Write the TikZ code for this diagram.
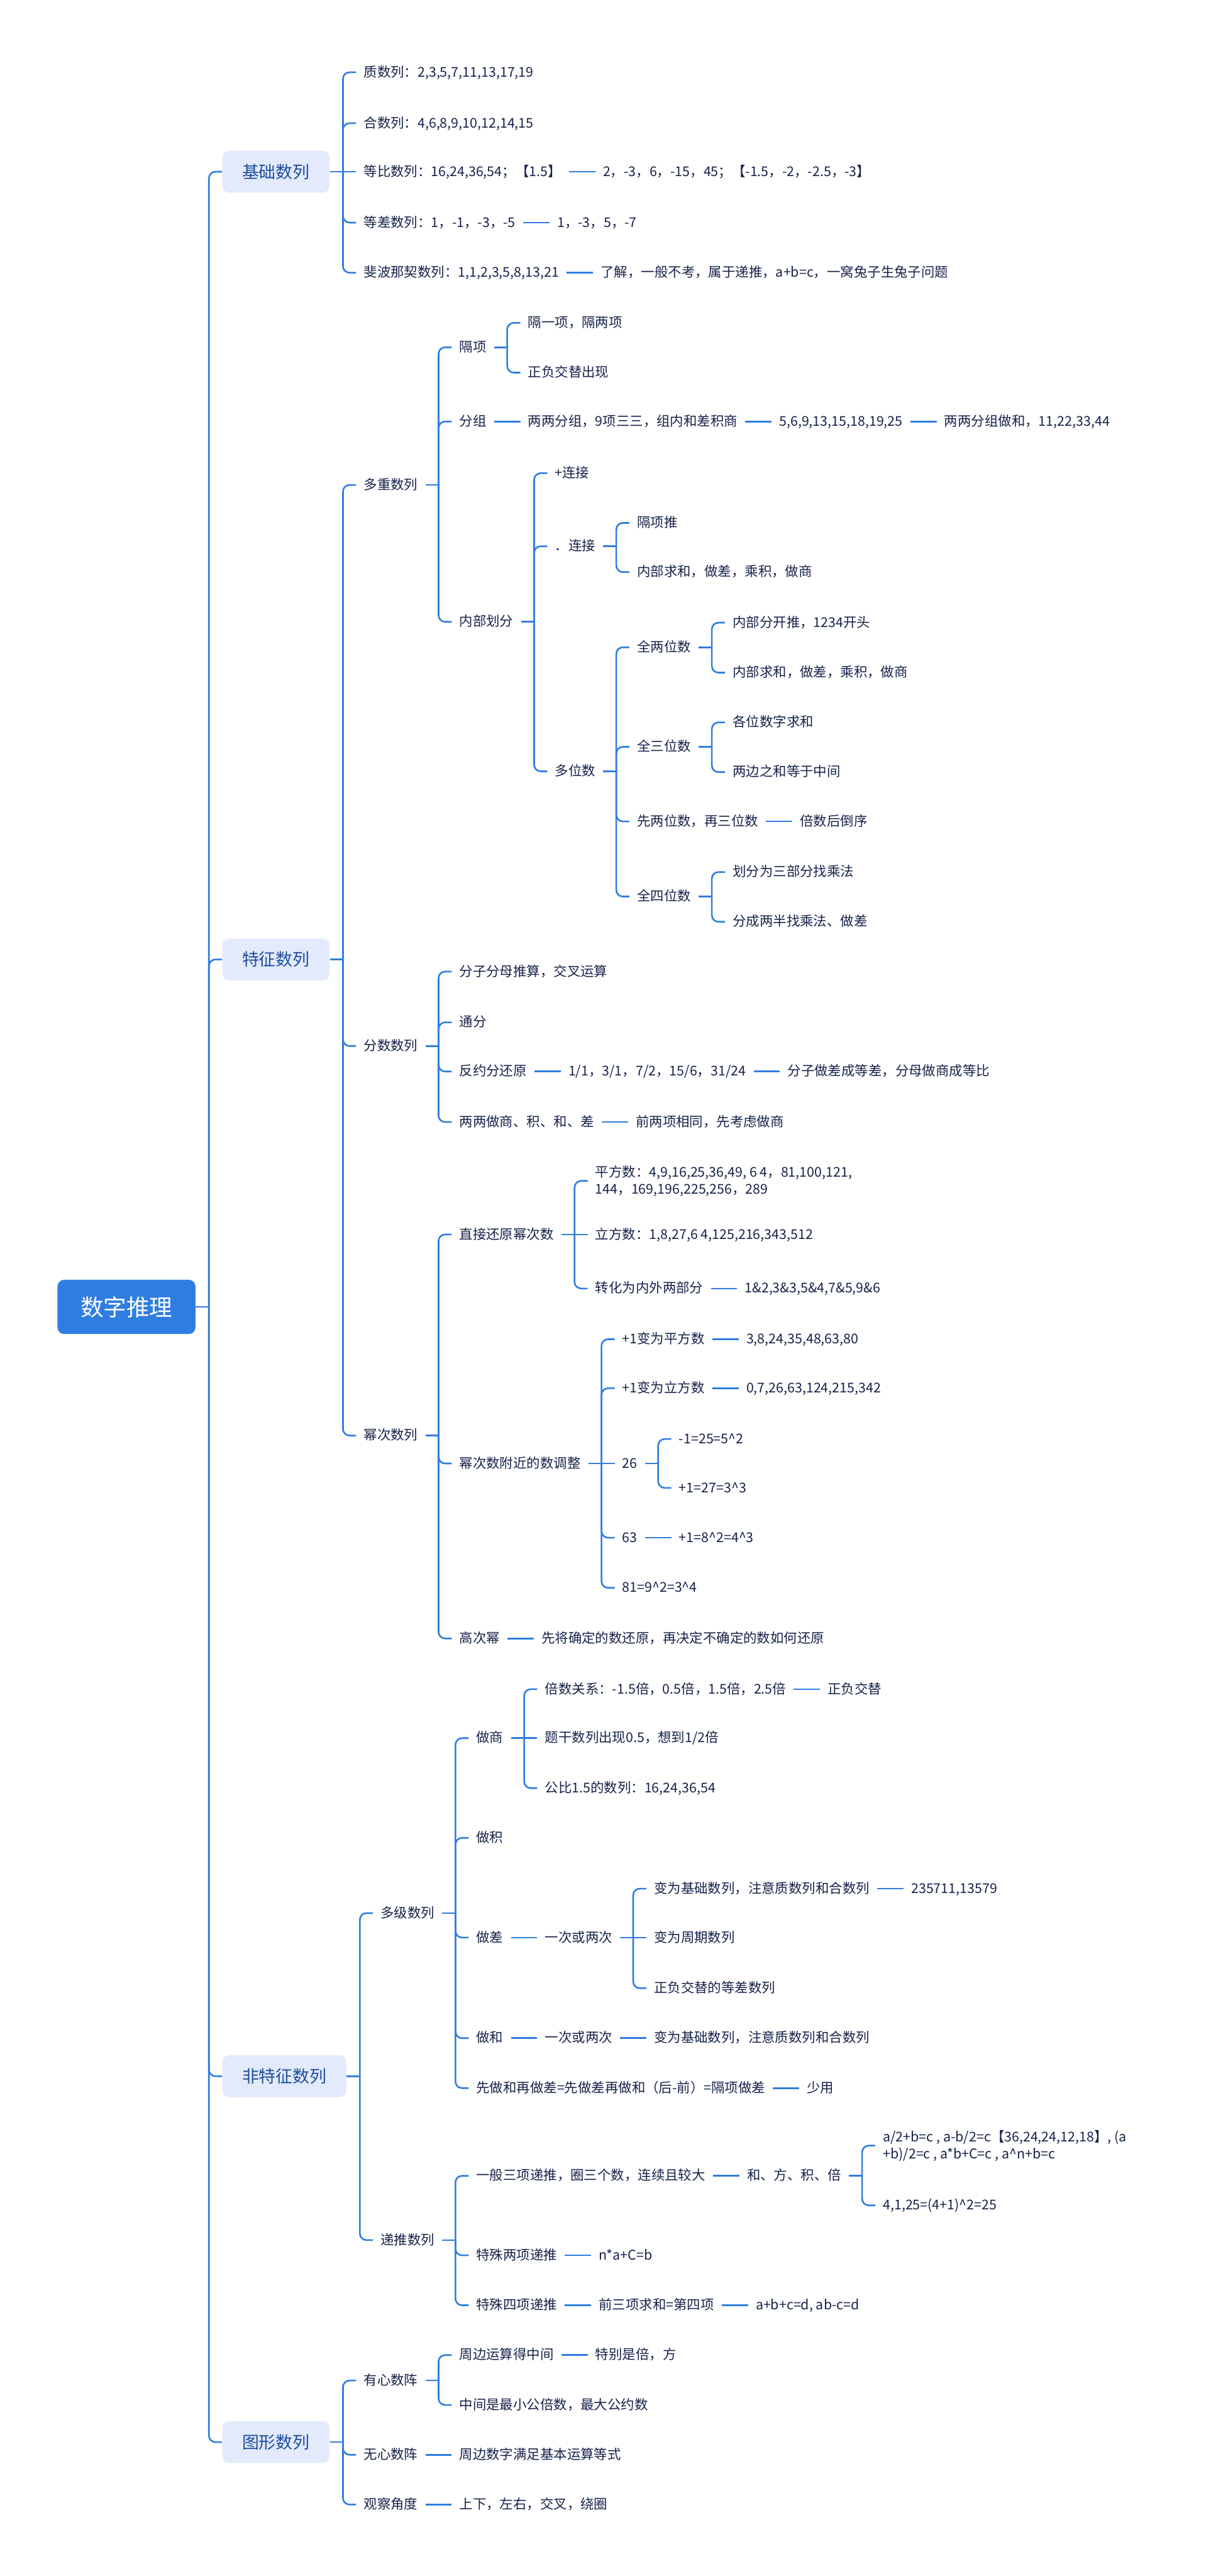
\documentclass[tikz,border=0pt]{standalone}
\usepackage{fontspec}
\setmainfont{Noto Sans CJK SC}
\usetikzlibrary{positioning}
\definecolor{linkblue}{HTML}{2F7DE1}
\definecolor{catfill}{HTML}{E2EAFB}
\definecolor{catink}{HTML}{1F4E9E}
\definecolor{leafink}{HTML}{17224A}
\tikzset{node distance=16pt,
root/.style={ % the centre topic
fill=linkblue, text=white, rounded corners=4pt,
minimum width=84pt, minimum height=33pt,
font=\fontsize{14}{16}\selectfont},
cat/.style={ % first level boxes
fill=catfill, text=catink, rounded corners=4pt,
minimum height=25.5pt, inner xsep=12pt,
font=\fontsize{10.3}{12}\selectfont},
leaf/.style={ % plain topics
text=leafink, inner xsep=4.5pt, inner ysep=1pt,
text height=7pt, text depth=1.5pt,
font=\fontsize{8.2}{10.3}\selectfont},
leaftwo/.style={ % topics on two lines
text=leafink, inner xsep=4.5pt, inner ysep=1pt, align=left,
font=\fontsize{8.2}{10.3}\selectfont},
link/.style={draw=linkblue, line width=1pt, rounded corners=4pt}}
\newcommand{\pw}{\textasciicircum}

\begin{document}
\begin{tikzpicture}[x=1pt,y=1pt]
\useasboundingbox (0,0) rectangle (737,-1568);
\node[root] (root) at (77,-795.5) {数字推理};

% 基础数列
\node[cat, right=of root, yshift=691pt] (jc) {基础数列};
\node[leaf, right=of jc, yshift=60.5pt] (jc1) {质数列：2,3,5,7,11,13,17,19};
\node[leaf, right=of jc, yshift=29.5pt] (jc2) {合数列：4,6,8,9,10,12,14,15};
\node[leaf, right=of jc] (jc3) {等比数列：16,24,36,54；【1.5】};
\node[leaf, right=of jc3] (jc3a) {2，-3，6，-15，45；【-1.5，-2，-2.5，-3】};
\node[leaf, right=of jc, yshift=-31pt] (jc4) {等差数列：1，-1，-3，-5};
\node[leaf, right=of jc4] (jc4a) {1，-3，5，-7};
\node[leaf, right=of jc, yshift=-61.5pt] (jc5) {斐波那契数列：1,1,2,3,5,8,13,21};
\node[leaf, right=of jc5] (jc5a) {了解，一般不考，属于递推，a+b=c，一窝兔子生兔子问题};

% 特征数列
\node[cat, right=of root, yshift=211.5pt] (tz) {特征数列};
\node[leaf, right=of tz, yshift=288.8pt] (dc) {多重数列};
\node[leaf, right=of dc, yshift=83.8pt] (gx) {隔项};
\node[leaf, right=of gx, yshift=14.9pt] (gx1) {隔一项，隔两项};
\node[leaf, right=of gx, yshift=-15.4pt] (gx2) {正负交替出现};
\node[leaf, right=of dc, yshift=38.6pt] (fz) {分组};
\node[leaf, right=of fz] (fz1) {两两分组，9项三三，组内和差积商};
\node[leaf, right=of fz1] (fz2) {5,6,9,13,15,18,19,25};
\node[leaf, right=of fz2] (fz3) {两两分组做和，11,22,33,44};
\node[leaf, right=of dc, yshift=-83.3pt] (nb) {内部划分};
\node[leaf, right=of nb, yshift=90.5pt] (lj1) {+连接};
\node[leaf, right=of nb, yshift=46pt] (lj2) {．连接};
\node[leaf, right=of lj2, yshift=14.2pt] (lj2a) {隔项推};
\node[leaf, right=of lj2, yshift=-15.7pt] (lj2b) {内部求和，做差，乘积，做商};
\node[leaf, right=of nb, yshift=-91pt] (dw) {多位数};
\node[leaf, right=of dw, yshift=75.5pt] (dw2) {全两位数};
\node[leaf, right=of dw2, yshift=15pt] (dw2a) {内部分开推，1234开头};
\node[leaf, right=of dw2, yshift=-15.4pt] (dw2b) {内部求和，做差，乘积，做商};
\node[leaf, right=of dw, yshift=14.9pt] (dw3) {全三位数};
\node[leaf, right=of dw3, yshift=14.9pt] (dw3a) {各位数字求和};
\node[leaf, right=of dw3, yshift=-15.4pt] (dw3b) {两边之和等于中间};
\node[leaf, right=of dw, yshift=-30.5pt] (dw23) {先两位数，再三位数};
\node[leaf, right=of dw23] (dw23a) {倍数后倒序};
\node[leaf, right=of dw, yshift=-76.2pt] (dw4) {全四位数};
\node[leaf, right=of dw4, yshift=14.9pt] (dw4a) {划分为三部分找乘法};
\node[leaf, right=of dw4, yshift=-15.4pt] (dw4b) {分成两半找乘法、做差};

\node[leaf, right=of tz, yshift=-52.7pt] (fs) {分数数列};
\node[leaf, right=of fs, yshift=45.3pt] (fs1) {分子分母推算，交叉运算};
\node[leaf, right=of fs, yshift=14.4pt] (fs2) {通分};
\node[leaf, right=of fs, yshift=-15.5pt] (fs3) {反约分还原};
\node[leaf, right=of fs3] (fs3a) {1/1，3/1，7/2，15/6，31/24};
\node[leaf, right=of fs3a] (fs3b) {分子做差成等差，分母做商成等比};
\node[leaf, right=of fs, yshift=-46.3pt] (fs4) {两两做商、积、和、差};
\node[leaf, right=of fs4] (fs4a) {前两项相同，先考虑做商};

\node[leaf, right=of tz, yshift=-289.8pt] (mc) {幂次数列};
\node[leaf, right=of mc, yshift=122.4pt] (hy) {直接还原幂次数};
\node[leaftwo, right=of hy, yshift=32.6pt] (hy1) {平方数：4,9,16,25,36,49, 6 4，81,100,121,\\144，169,196,225,256，289};
\node[leaf, right=of hy] (hy2) {立方数：1,8,27,6 4,125,216,343,512};
\node[leaf, right=of hy, yshift=-32.9pt] (hy3) {转化为内外两部分};
\node[leaf, right=of hy3] (hy3a) {1\&2,3\&3,5\&4,7\&5,9\&6};
\node[leaf, right=of mc, yshift=-17pt] (tj) {幂次数附近的数调整};
\node[leaf, right=of tj, yshift=75.6pt] (tj1) {+1变为平方数};
\node[leaf, right=of tj1] (tj1a) {3,8,24,35,48,63,80};
\node[leaf, right=of tj, yshift=45.8pt] (tj2) {+1变为立方数};
\node[leaf, right=of tj2] (tj2a) {0,7,26,63,124,215,342};
\node[leaf, right=of tj] (tj3) {26};
\node[leaf, right=of tj3, yshift=14.9pt] (tj3a) {-1=25=5\pw2};
\node[leaf, right=of tj3, yshift=-14.9pt] (tj3b) {+1=27=3\pw3};
\node[leaf, right=of tj, yshift=-45.2pt] (tj4) {63};
\node[leaf, right=of tj4] (tj4a) {+1=8\pw2=4\pw3};
\node[leaf, right=of tj, yshift=-75.7pt] (tj5) {81=9\pw2=3\pw4};
\node[leaf, right=of mc, yshift=-123.5pt] (gc) {高次幂};
\node[leaf, right=of gc] (gc1) {先将确定的数还原，再决定不确定的数如何还原};

% 非特征数列
\node[cat, right=of root, yshift=-468.3pt] (ftz) {非特征数列};
\node[leaf, right=of ftz, yshift=99.3pt] (dj) {多级数列};
\node[leaf, right=of dj, yshift=106.5pt] (zs) {做商};
\node[leaf, right=of zs, yshift=29.8pt] (zs1) {倍数关系：-1.5倍，0.5倍，1.5倍，2.5倍};
\node[leaf, right=of zs1] (zs1a) {正负交替};
\node[leaf, right=of zs] (zs2) {题干数列出现0.5，想到1/2倍};
\node[leaf, right=of zs, yshift=-30.4pt] (zs3) {公比1.5的数列：16,24,36,54};
\node[leaf, right=of dj, yshift=45.8pt] (zj) {做积};
\node[leaf, right=of dj, yshift=-14.9pt] (zc) {做差};
\node[leaf, right=of zc] (zc1) {一次或两次};
\node[leaf, right=of zc1, yshift=29.8pt] (zc1a) {变为基础数列，注意质数列和合数列};
\node[leaf, right=of zc1a] (zc1a2) {235711,13579};
\node[leaf, right=of zc1] (zc1b) {变为周期数列};
\node[leaf, right=of zc1, yshift=-30.8pt] (zc1c) {正负交替的等差数列};
\node[leaf, right=of dj, yshift=-76.1pt] (zh) {做和};
\node[leaf, right=of zh] (zh1) {一次或两次};
\node[leaf, right=of zh1] (zh2) {变为基础数列，注意质数列和合数列};
\node[leaf, right=of dj, yshift=-106.5pt] (xh) {先做和再做差=先做差再做和（后-前）=隔项做差\hspace{7pt}};
\node[leaf, right=of xh] (xh1) {少用};
\node[leaf, right=of ftz, yshift=-99.7pt] (dt) {递推数列};
\node[leaf, right=of dt, yshift=39.1pt] (dt1) {一般三项递推，圈三个数，连续且较大};
\node[leaf, right=of dt1] (dt1a) {和、方、积、倍};
\node[leaftwo, right=of dt1a, yshift=18.4pt] (dt1b) {a/2+b=c , a-b/2=c【36,24,24,12,18】, (a\\+b)/2=c , a*b+C=c , a\pw n+b=c};
\node[leaf, right=of dt1a, yshift=-18pt] (dt1c) {4,1,25=(4+1)\pw2=25};
\node[leaf, right=of dt, yshift=-9.3pt] (dt2) {特殊两项递推};
\node[leaf, right=of dt2] (dt2a) {n*a+C=b};
\node[leaf, right=of dt, yshift=-39.7pt] (dt3) {特殊四项递推};
\node[leaf, right=of dt3] (dt3a) {前三项求和=第四项};
\node[leaf, right=of dt3a] (dt3b) {a+b+c=d, ab-c=d};

% 图形数列
\node[cat, right=of root, yshift=-691pt] (tx) {图形数列};
\node[leaf, right=of tx, yshift=37.5pt] (yx) {有心数阵};
\node[leaf, right=of yx, yshift=15.5pt] (yx1) {周边运算得中间};
\node[leaf, right=of yx1] (yx1a) {特别是倍，方};
\node[leaf, right=of yx, yshift=-14.9pt] (yx2) {中间是最小公倍数，最大公约数};
\node[leaf, right=of tx, yshift=-7.7pt] (wx) {无心数阵};
\node[leaf, right=of wx] (wx1) {周边数字满足基本运算等式};
\node[leaf, right=of tx, yshift=-38pt] (gj) {观察角度};
\node[leaf, right=of gj] (gj1) {上下，左右，交叉，绕圈};

% branches: stub to the spine, then a rounded turn to each child
\foreach \p/\kids in {root/{jc,tz,ftz,tx}, jc/{jc1,jc2,jc4,jc5}, tz/{dc,fs,mc},
  dc/{gx,fz,nb}, gx/{gx1,gx2}, nb/{lj1,lj2,dw}, lj2/{lj2a,lj2b},
  dw/{dw2,dw3,dw23,dw4}, dw2/{dw2a,dw2b}, dw3/{dw3a,dw3b}, dw4/{dw4a,dw4b},
  fs/{fs1,fs2,fs3,fs4}, mc/{hy,tj,gc}, hy/{hy1,hy3}, tj/{tj1,tj2,tj4,tj5},
  tj3/{tj3a,tj3b}, ftz/{dj,dt}, dj/{zs,zj,zc,zh,xh}, zs/{zs1,zs3},
  zc1/{zc1a,zc1c}, dt/{dt1,dt2,dt3}, dt1a/{dt1b,dt1c}, tx/{yx,wx,gj},
  yx/{yx1,yx2}}{
  \draw[link] (\p.east) -- ++(8pt,0);
  \foreach \k in \kids
    \draw[link] ([xshift=8pt]\p.east) |- (\k.west);
}
% straight links
\foreach \a/\b in {jc/jc3, jc3/jc3a, jc4/jc4a, jc5/jc5a, fz/fz1, fz1/fz2, fz2/fz3,
  dw23/dw23a, fs3/fs3a, fs3a/fs3b, fs4/fs4a, hy/hy2, hy3/hy3a, tj/tj3,
  tj1/tj1a, tj2/tj2a, tj4/tj4a, gc/gc1, zs/zs2, zs1/zs1a, zc/zc1, zc1/zc1b,
  zc1a/zc1a2, zh/zh1, zh1/zh2, xh/xh1, dt1/dt1a, dt2/dt2a, dt3/dt3a,
  dt3a/dt3b, yx1/yx1a, wx/wx1, gj/gj1}
  \draw[link] (\a.east) -- (\b.west);
\end{tikzpicture}
\end{document}
